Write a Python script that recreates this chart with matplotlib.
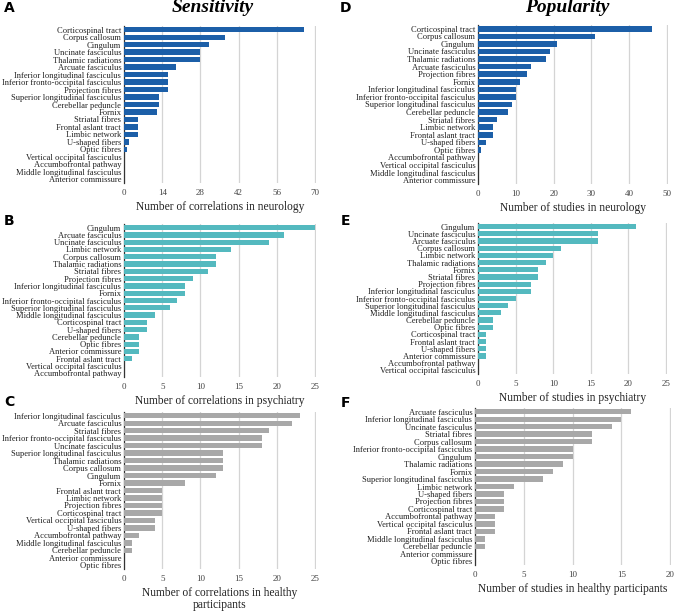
import matplotlib
matplotlib.use("Agg")
import matplotlib.pyplot as plt

# panel A - sensitivity, neurology
tracts_a = ["Corticospinal tract", "Corpus callosum", "Cingulum", "Uncinate fasciculus",
            "Thalamic radiations", "Arcuate fasciculus", "Inferior longitudinal fasciculus",
            "Inferior fronto-occipital fasciculus", "Projection fibres",
            "Superior longitudinal fasciculus", "Cerebellar peduncle", "Fornix",
            "Striatal fibres", "Frontal aslant tract", "Limbic network", "U-shaped fibers",
            "Optic fibres", "Vertical occipital fasciculus", "Accumbofrontal pathway",
            "Middle longitudinal fasciculus", "Anterior commissure"]
values_a = [66, 37, 31, 28, 28, 19, 16, 16, 16, 13, 13, 12, 5, 5, 5, 2, 1, 0, 0, 0, 0]

# panel B - sensitivity, psychiatry
tracts_b = ["Cingulum", "Arcuate fasciculus", "Uncinate fasciculus", "Limbic network",
            "Corpus callosum", "Thalamic radiations", "Striatal fibres", "Projection fibres",
            "Inferior longitudinal fasciculus", "Fornix",
            "Inferior fronto-occipital fasciculus", "Superior longitudinal fasciculus",
            "Middle longitudinal fasciculus", "Corticospinal tract", "U-shaped fibers",
            "Cerebellar peduncle", "Optic fibres", "Anterior commissure",
            "Frontal aslant tract", "Vertical occipital fasciculus", "Accumbofrontal pathway"]
values_b = [25, 21, 19, 14, 12, 12, 11, 9, 8, 8, 7, 6, 4, 3, 3, 2, 2, 2, 1, 0, 0]

# panel C - sensitivity, healthy participants
tracts_c = ["Inferior longitudinal fasciculus", "Arcuate fasciculus", "Striatal fibres",
            "Inferior fronto-occipital fasciculus", "Uncinate fasciculus",
            "Superior longitudinal fasciculus", "Thalamic radiations", "Corpus callosum",
            "Cingulum", "Fornix", "Frontal aslant tract", "Limbic network",
            "Projection fibres", "Corticospinal tract", "Vertical occipital fasciculus",
            "U-shaped fibers", "Accumbofrontal pathway", "Middle longitudinal fasciculus",
            "Cerebellar peduncle", "Anterior commissure", "Optic fibres"]
values_c = [23, 22, 19, 18, 18, 13, 13, 13, 12, 8, 5, 5, 5, 5, 4, 4, 2, 1, 1, 0, 0]

# panel D - popularity, neurology
tracts_d = ["Corticospinal tract", "Corpus callosum", "Cingulum", "Uncinate fasciculus",
            "Thalamic radiations", "Arcuate fasciculus", "Projection fibres", "Fornix",
            "Inferior longitudinal fasciculus", "Inferior fronto-occipital fasciculus",
            "Superior longitudinal fasciculus", "Cerebellar peduncle", "Striatal fibres",
            "Limbic network", "Frontal aslant tract", "U-shaped fibers", "Optic fibres",
            "Accumbofrontal pathway", "Vertical occipital fasciculus",
            "Middle longitudinal fasciculus", "Anterior commissure"]
values_d = [46, 31, 21, 19, 18, 14, 13, 11, 10, 10, 9, 8, 5, 4, 4, 2, 0.8, 0, 0, 0, 0]

# panel E - popularity, psychiatry
tracts_e = ["Cingulum", "Uncinate fasciculus", "Arcuate fasciculus", "Corpus callosum",
            "Limbic network", "Thalamic radiations", "Fornix", "Striatal fibres",
            "Projection fibres", "Inferior longitudinal fasciculus",
            "Inferior fronto-occipital fasciculus", "Superior longitudinal fasciculus",
            "Middle longitudinal fasciculus", "Cerebellar peduncle", "Optic fibres",
            "Corticospinal tract", "Frontal aslant tract", "U-shaped fibers",
            "Anterior commissure", "Accumbofrontal pathway", "Vertical occipital fasciculus"]
values_e = [21, 16, 16, 11, 10, 9, 8, 8, 7, 7, 5, 4, 3, 2, 2, 1, 1, 1, 1, 0, 0]

# panel F - popularity, healthy participants
tracts_f = ["Arcuate fasciculus", "Inferior longitudinal fasciculus", "Uncinate fasciculus",
            "Striatal fibres", "Corpus callosum", "Inferior fronto-occipital fasciculus",
            "Cingulum", "Thalamic radiations", "Fornix", "Superior longitudinal fasciculus",
            "Limbic network", "U-shaped fibers", "Projection fibres", "Corticospinal tract",
            "Accumbofrontal pathway", "Vertical occipital fasciculus", "Frontal aslant tract",
            "Middle longitudinal fasciculus", "Cerebellar peduncle", "Anterior commissure",
            "Optic fibres"]
values_f = [16, 15, 14, 12, 12, 10, 10, 9, 8, 7, 4, 3, 3, 3, 2, 2, 2, 1, 1, 0, 0]

BLUE = "#1c5fa8"
TEAL = "#54b9bf"
GREY = "#a8a8a8"
SERIF = ["Liberation Serif", "DejaVu Serif"]


def draw_panel(fig, rect, tracts, values, color, xmax, step, xlabel):
    ax = fig.add_axes(rect)
    ypos = range(len(tracts))
    ax.barh(ypos, values, height=0.72, color=color, zorder=3)
    ax.set_ylim(len(tracts) - 0.5, -0.5)
    ax.set_xlim(0, xmax * 1.005)
    ax.set_xticks(range(0, xmax + 1, step))
    ax.set_yticks(list(ypos))
    ax.set_yticklabels(tracts, family=SERIF, fontsize=6.1, color="#222222")
    for lab in ax.get_xticklabels():
        lab.set_family(SERIF)
        lab.set_fontsize(6.5)
        lab.set_color("#444444")
    ax.tick_params(length=0, pad=2)
    ax.tick_params(axis="x", pad=4)
    ax.grid(axis="x", color="#d4d4d4", linewidth=0.9, zorder=0)
    for side in ["top", "right", "bottom"]:
        ax.spines[side].set_visible(False)
    ax.spines["left"].set_color("#333333")
    ax.spines["left"].set_linewidth(0.9)
    ax.set_xlabel(xlabel, family=SERIF, fontsize=8.3, color="#222222", labelpad=3,
                  linespacing=1.0)
    return ax


fig = plt.figure(figsize=(6.76, 6.11), dpi=100)
W, H = 676.0, 611.0


def rect(left, right, top, bottom):
    return [left / W, 1 - bottom / H, (right - left) / W, (bottom - top) / H]


draw_panel(fig, rect(124, 316, 26, 183), tracts_a, values_a, BLUE, 70, 14,
           "Number of correlations in neurology")
draw_panel(fig, rect(124, 316, 224, 377), tracts_b, values_b, TEAL, 25, 5,
           "Number of correlations in psychiatry")
draw_panel(fig, rect(124, 316, 412, 569), tracts_c, values_c, GREY, 25, 5,
           "Number of correlations in healthy\nparticipants")
draw_panel(fig, rect(478, 668, 25, 184), tracts_d, values_d, BLUE, 50, 10,
           "Number of studies in neurology")
draw_panel(fig, rect(478, 667, 223, 374), tracts_e, values_e, TEAL, 25, 5,
           "Number of studies in psychiatry")
draw_panel(fig, rect(475, 671, 408, 565), tracts_f, values_f, GREY, 20, 5,
           "Number of studies in healthy participants")

fig.text(213 / W, 1 - 8 / H, "Sensitivity", family=SERIF, style="italic",
         weight="bold", fontsize=14, ha="center", va="center")
fig.text(567 / W, 1 - 8 / H, "Popularity", family=SERIF, style="italic",
         weight="bold", fontsize=14, ha="center", va="center")

for letter, x, y in [("A", 4, 8), ("B", 4, 221), ("C", 4, 402),
                     ("D", 340, 8), ("E", 341, 221), ("F", 341, 403)]:
    fig.text(x / W, 1 - y / H, letter, fontsize=10, weight="bold",
             family="DejaVu Sans", ha="left", va="center")

fig.savefig("out.png", dpi=100)
